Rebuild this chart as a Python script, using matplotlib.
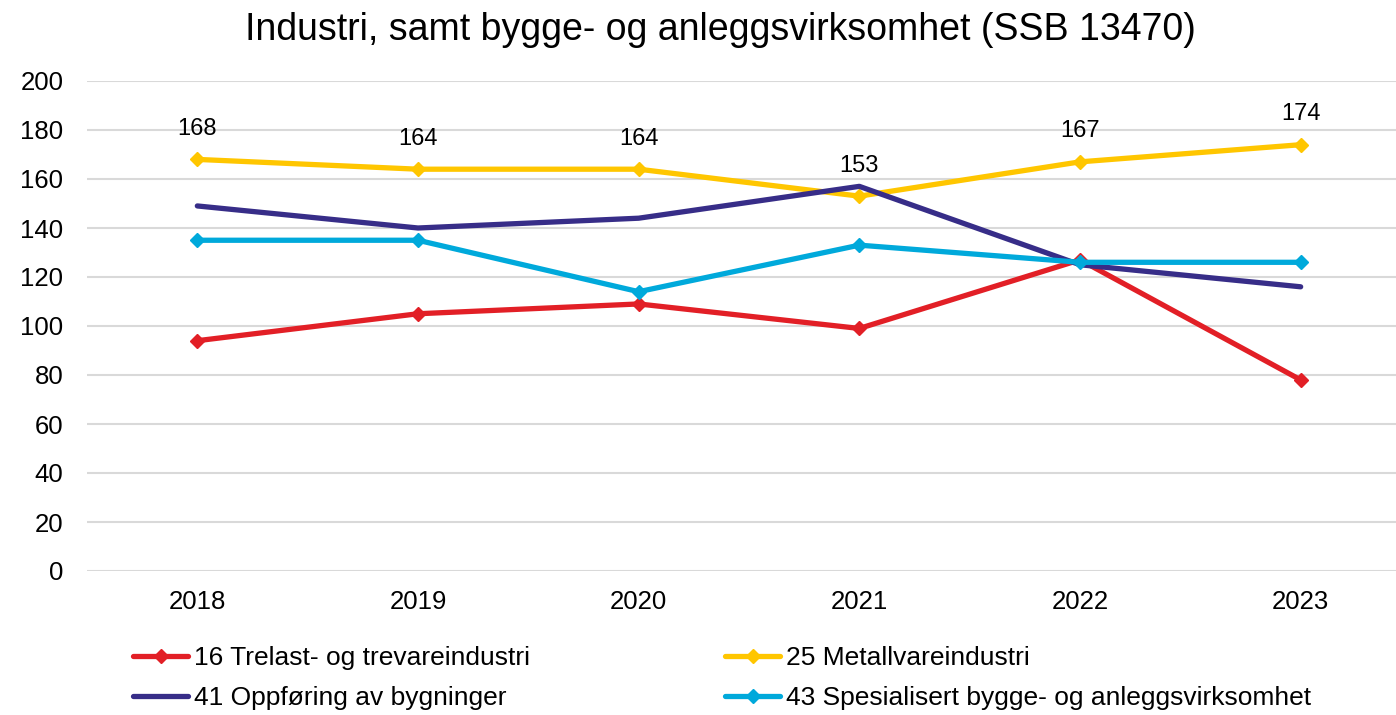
import matplotlib.pyplot as plt

plt.rcParams['font.family'] = ['Liberation Sans', 'DejaVu Sans']

years = ['2018', '2019', '2020', '2021', '2022', '2023']
trelast = [94, 105, 109, 99, 127, 78]
metall = [168, 164, 164, 153, 167, 174]
oppforing = [149, 140, 144, 157, 125, 116]
spesialisert = [135, 135, 114, 133, 126, 126]

series = [
    ('16 Trelast- og trevareindustri', trelast, '#E21F26', 'D'),
    ('25 Metallvareindustri', metall, '#FFC600', 'D'),
    ('41 Oppføring av bygninger', oppforing, '#372D88', None),
    ('43 Spesialisert bygge- og anleggsvirksomhet', spesialisert, '#00A9DB', 'D'),
]

fig = plt.figure(figsize=(13.96, 7.15), dpi=100)
ax = fig.add_axes([87 / 1396, 1 - 571 / 715, 1 - 87 / 1396, (571 - 81) / 715])

x = list(range(len(years)))
lines = []
for name, vals, col, mk in series:
    ln, = ax.plot(x, vals, color=col, lw=3.8, marker=mk, ms=7.5, label=name,
                  solid_capstyle='round', solid_joinstyle='round')
    lines.append(ln)

for xi, v in zip(x, metall):
    ax.annotate(str(v), (xi, v), xytext=(0, 22), textcoords='offset points',
                ha='center', va='center', fontsize=17)

ax.set_ylim(0, 200)
ax.set_xlim(-0.5, 5.5 - 15 / 220.6)
ax.set_yticks(range(0, 201, 20))
ax.set_xticks(x)
ax.set_xticklabels(years)
ax.tick_params(axis='both', length=0, labelsize=18.5)
ax.tick_params(axis='x', pad=14)
ax.tick_params(axis='y', pad=17)
ax.grid(axis='y', color='#D9D9D9', lw=1.5)
ax.set_axisbelow(True)
for s in ax.spines.values():
    s.set_visible(False)

fig.text(720 / 1396, 1 - 30 / 715, 'Industri, samt bygge- og anleggsvirksomhet (SSB 13470)',
         ha='center', va='center', fontsize=27)

# legend reads row by row: 16, 25 / 41, 43
order = [0, 2, 1, 3]
fig.legend([lines[i] for i in order], [series[i][0] for i in order],
           loc='upper left', bbox_to_anchor=(133 / 1396, 1 - 646 / 715), ncol=2,
           frameon=False, fontsize=19, handlelength=2.1, handletextpad=0.2,
           labelspacing=0.62, columnspacing=7.4, borderaxespad=0, borderpad=0)

fig.savefig('out.png', dpi=100)
